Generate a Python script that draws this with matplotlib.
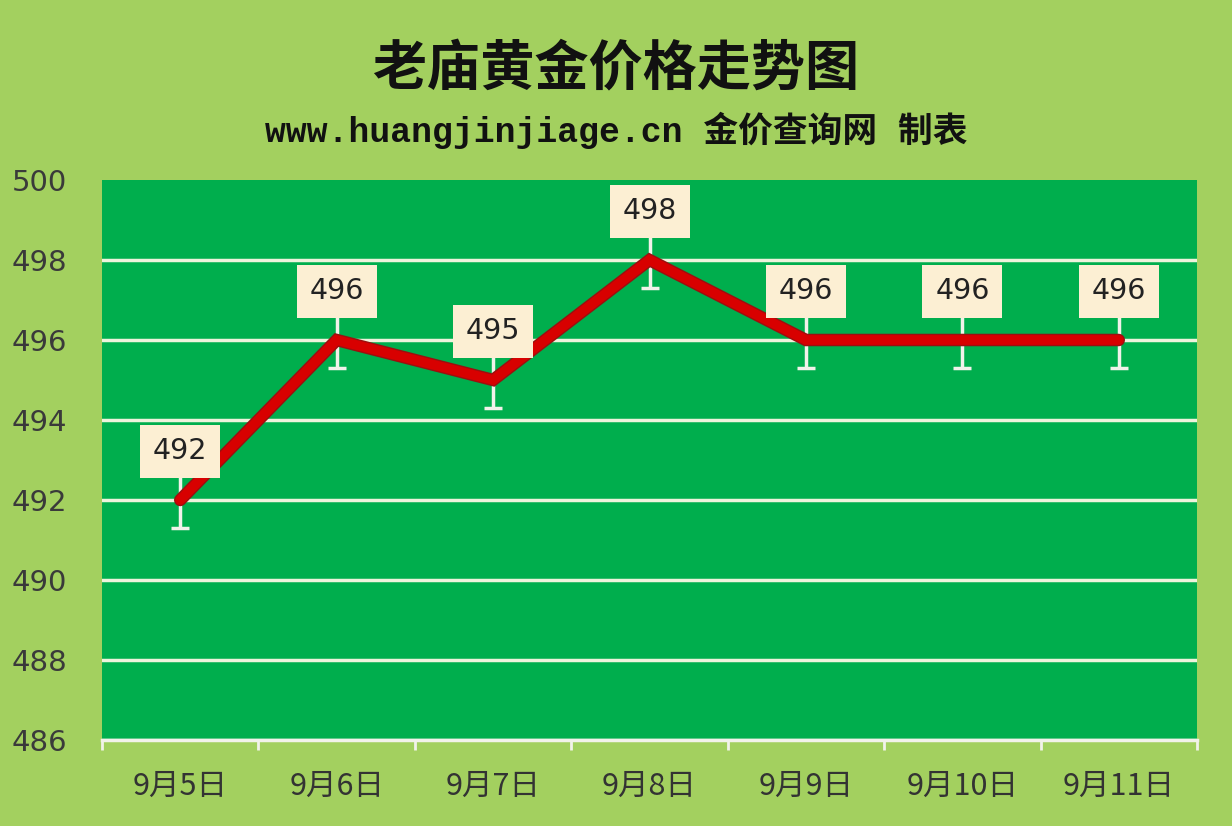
import matplotlib
matplotlib.use("Agg")
import matplotlib.pyplot as plt
import matplotlib.patheffects as pe

plt.rcParams['font.family'] = ['Noto Sans CJK SC', 'DejaVu Sans']

categories = ["9月5日", "9月6日", "9月7日", "9月8日", "9月9日", "9月10日", "9月11日"]
prices = [492, 496, 495, 498, 496, 496, 496]
err = [0.69] * 7
yticks = [486, 488, 490, 492, 494, 496, 498, 500]

fig = plt.figure(figsize=(12.32, 8.26), dpi=100)
fig.patch.set_facecolor('#A3D05F')
ax = fig.add_axes([102/1232, 86/826, 1095/1232, 560/826])
ax.set_facecolor('#00AE4D')

x = list(range(len(categories)))
ax.errorbar(x, prices, yerr=err, fmt='none', ecolor='#F2F2EA', elinewidth=2.5,
            capsize=6.5, capthick=2.5, zorder=3)
ax.plot(x, prices, color='#D80000', linewidth=7, solid_capstyle='round',
        solid_joinstyle='miter', zorder=4,
        path_effects=[pe.Stroke(linewidth=9, foreground='#9A1010'), pe.Normal()])

for xi, v in zip(x, prices):
    ax.annotate(str(v), (xi, v), xytext=(0, 35), textcoords='offset points',
                ha='center', va='center', fontsize=20.5, color='#222222',
                family=['DejaVu Sans'], zorder=6,
                bbox=dict(boxstyle='square,pad=0.45', facecolor='#FCEFD3', edgecolor='none'))

ax.set_xlim(-0.5, 6.5)
ax.set_ylim(486, 500)
ax.set_yticks(yticks)
ax.set_yticklabels([str(t) for t in yticks], fontsize=21, color='#3A3A3A',
                   family=['DejaVu Sans'])
ax.yaxis.grid(True, color='#EEF3DC', linewidth=2.5)
ax.get_ygridlines()[-1].set_visible(False)
ax.set_axisbelow(True)
ax.tick_params(axis='y', length=0, pad=25)
ax.set_xticks(x)
ax.set_xticklabels(categories, fontsize=22, color='#333333')
ax.tick_params(axis='x', which='major', length=0, pad=22)
ax.set_xticks([i - 0.5 for i in range(8)], minor=True)
ax.tick_params(axis='x', which='minor', length=7, width=2, color='#F2F2EA', direction='out')
for s in ['top', 'right', 'left']:
    ax.spines[s].set_visible(False)
ax.spines['bottom'].set_color('#F2F2EA')
ax.spines['bottom'].set_linewidth(2.5)

fig.text(0.5, 1 - 70/826, "老庙黄金价格走势图", ha='center', va='center',
         fontsize=39, fontweight='bold', color='#111111')
fig.text(0.5, 1 - 130/826, "www.huangjinjiage.cn 金价查询网 制表", ha='center', va='center',
         fontsize=25, fontweight='bold', color='#111111',
         family=['Liberation Mono', 'Noto Sans CJK SC'])

fig.savefig("out.png", dpi=100, facecolor=fig.get_facecolor())
